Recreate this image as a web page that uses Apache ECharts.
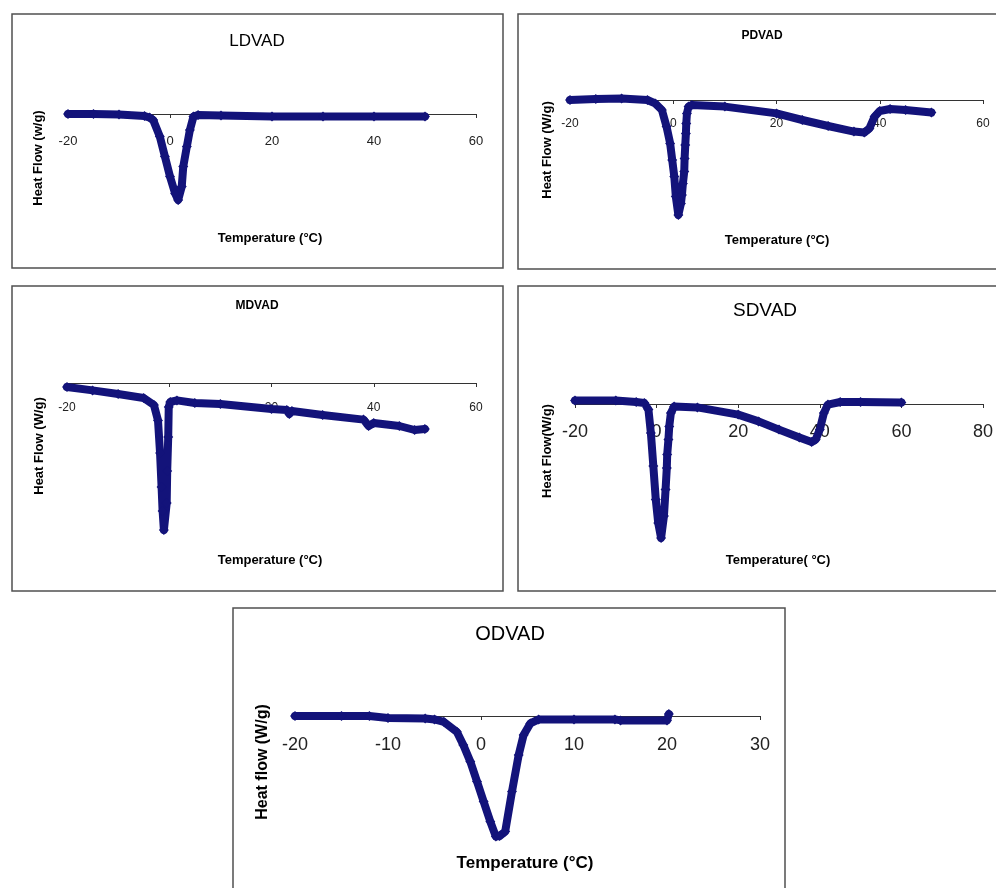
<!DOCTYPE html>
<html>
<head>
<meta charset="utf-8">
<script src="https://cdn.jsdelivr.net/npm/echarts@6/dist/echarts.min.js"></script>
<style>html,body{margin:0;padding:0;background:#fff}#c{width:996px;height:888px}</style>
</head>
<body>
<div id="c"></div>
<script>
// ---- Data (Temperature in °C, heat flow in arbitrary W/g units) ----
const ldvadT  = [-20, -15, -10, -5, -4, -3.3, -2, -1, 0, 1, 1.6, 2.3, 2.6, 3.3, 3.9, 4.6, 5.5, 10, 20, 30, 40, 50];
const ldvadHF = [0, 0, -0.03, -0.1, -0.18, -0.3, -1.13, -2.13, -3.13, -3.97, -4.3, -3.63, -2.63, -1.63, -0.8, -0.13, -0.05, -0.08, -0.12, -0.13, -0.13, -0.13];

const pdvadT  = [-20, -15, -10, -5, -3.5, -2.2, -1.3, -0.6, -0.2, 0.2, 0.5, 0.99, 1.49, 1.68, 1.87, 2.13, 2.2, 2.33, 2.45, 2.52, 2.65, 2.97, 3.6, 10, 20, 25, 30, 35, 37, 38, 39, 40, 42, 45, 50];
const pdvadHF = [0, 0.05, 0.08, 0, -0.17, -0.5, -1.33, -2.17, -3, -3.83, -4.83, -5.75, -5.17, -4.75, -4.17, -3.58, -2.92, -2.25, -1.67, -1.17, -0.67, -0.33, -0.25, -0.33, -0.67, -1.0, -1.3, -1.58, -1.63, -1.42, -0.83, -0.55, -0.45, -0.5, -0.63];

const mdvadT  = [-20, -15, -10, -5, -3, -2.2, -1.8, -1.5, -1.3, -1.05, -0.5, -0.4, -0.2, -0.1, 0.2, 1.5, 5, 10, 20, 23, 23.5, 24, 30, 38, 39, 40, 45, 48, 50];
const mdvadHF = [-0.2, -0.37, -0.55, -0.75, -1.1, -1.87, -3.5, -5.2, -6.4, -7.35, -6.0, -4.4, -2.7, -1.2, -0.95, -0.87, -1.0, -1.05, -1.3, -1.35, -1.55, -1.4, -1.6, -1.83, -2.15, -2.0, -2.15, -2.35, -2.3];

const sdvadT  = [-20, -10, -5, -3, -2.0, -1.4, -0.8, -0.2, 0.4, 1.1, 1.8, 2.2, 2.5, 2.6, 2.9, 3.1, 3.5, 4.3, 10, 20, 25, 30, 35, 38, 39, 40, 41, 42, 45, 50, 60];
const sdvadHF = [0.18, 0.18, 0.1, 0.05, -0.28, -1.45, -3.1, -4.78, -5.95, -6.7, -5.6, -4.28, -3.2, -2.53, -1.78, -1.12, -0.45, -0.12, -0.17, -0.53, -0.87, -1.28, -1.67, -1.9, -1.78, -1.28, -0.45, -0.03, 0.1, 0.1, 0.08];

const odvadT  = [-20, -15, -12, -10, -6, -5, -4, -2.6, -1.9, -1.15, -0.43, 0.28, 1.0, 1.6, 2.0, 2.6, 3.33, 4.05, 4.58, 5.3, 6.2, 10, 14.4, 15, 20, 20.2];
const odvadHF = [0, 0, 0, -0.1, -0.12, -0.17, -0.29, -0.79, -1.45, -2.28, -3.28, -4.28, -5.28, -6.03, -6.0, -5.78, -3.78, -1.95, -0.95, -0.37, -0.17, -0.17, -0.17, -0.22, -0.22, 0.1];

// tick settings per panel
const xMins = [-20, -20, -20, -20, -20];
const xMaxs = [60, 60, 60, 80, 30];
const xSteps = [20, 20, 20, 20, 10];
const panelTitles = ['LDVAD', 'PDVAD', 'MDVAD', 'SDVAD', 'ODVAD'];
const yNames = ['Heat Flow (w/g)', 'Heat Flow (W/g)', 'Heat Flow (W/g)', 'Heat Flow(W/g)', 'Heat flow (W/g)'];
const xNames = ['Temperature (°C)', 'Temperature (°C)', 'Temperature (°C)', 'Temperature( °C)', 'Temperature (°C)'];

// ---- Layout ----
const FONT = '"Liberation Sans", Arial, sans-serif';
const NAVY = '#13137a';
const PX_PER_UNIT = 20;
const grids = [
  {left: 68, top: 94, width: 408, height: 120},
  {left: 570, top: 80, width: 413, height: 160},
  {left: 67, top: 363, width: 409, height: 180},
  {left: 575, top: 384, width: 408, height: 160},
  {left: 295, top: 696, width: 465, height: 160}
];
const yRanges = [[-5, 1], [-7, 1], [-8, 1], [-7, 1], [-7, 1]];
const tickFont = [13, 12, 12, 18, 18];
const labelMargin = [21, 18, 19, 19, 20];
const boxes = [[12, 14, 491, 254], [518, 14, 500, 255], [12, 286, 491, 305], [518, 286, 500, 305], [233, 608, 552, 300]];
const titlePos = [[257, 41, 17, 'normal'], [762, 36, 12, 'bold'], [257, 306, 12, 'bold'], [765, 311, 19, 'normal'], [510, 634, 20, 'normal']];
const yNamePos = [[38, 158, 13], [547, 150, 13], [39, 446, 13], [547, 451, 13], [263, 762, 16]];
const xNamePos = [[270, 238, 13], [777, 240, 13], [270, 560, 13], [778, 560, 13], [525, 863, 17]];

const allT = [ldvadT, pdvadT, mdvadT, sdvadT, odvadT];
const allHF = [ldvadHF, pdvadHF, mdvadHF, sdvadHF, odvadHF];

const xAxis = [], yAxis = [], series = [], graphic = [];
for (let i = 0; i < 5; i++) {
  xAxis.push({
    gridIndex: i, type: 'value', position: 'bottom', min: xMins[i], max: xMaxs[i], interval: xSteps[i],
    offset: yRanges[i][0] * PX_PER_UNIT,
    axisLine: {show: true, onZero: false, lineStyle: {color: '#333', width: 1}},
    axisTick: {show: true, length: 4, lineStyle: {color: '#333'}},
    axisLabel: {margin: labelMargin[i], fontSize: tickFont[i], color: '#222', fontFamily: FONT},
    splitLine: {show: false}
  });
  yAxis.push({gridIndex: i, type: 'value', min: yRanges[i][0], max: yRanges[i][1], show: false});
  series.push({
    type: 'line', xAxisIndex: i, yAxisIndex: i,
    data: allT[i].map((t, k) => [t, allHF[i][k]]),
    symbol: 'diamond', symbolSize: 10, showAllSymbol: true,
    lineStyle: {color: NAVY, width: 8, join: 'round', cap: 'round'}, itemStyle: {color: NAVY},
    z: 3, animation: false
  });
  const b = boxes[i];
  graphic.push({type: 'rect', shape: {x: b[0], y: b[1], width: b[2], height: b[3]},
    style: {fill: 'none', stroke: '#505050', lineWidth: 1.5}, z: 0});
  const tp = titlePos[i];
  graphic.push({type: 'text', x: tp[0], y: tp[1], style: {text: panelTitles[i], fontSize: tp[2], fontWeight: tp[3],
    fontFamily: FONT, fill: '#000', textAlign: 'center', textVerticalAlign: 'middle'}});
  const yp = yNamePos[i];
  graphic.push({type: 'text', x: yp[0], y: yp[1], rotation: Math.PI / 2, style: {text: yNames[i], fontSize: yp[2], fontWeight: 'bold',
    fontFamily: FONT, fill: '#000', textAlign: 'center', textVerticalAlign: 'middle'}});
  const xp = xNamePos[i];
  graphic.push({type: 'text', x: xp[0], y: xp[1], style: {text: xNames[i], fontSize: xp[2], fontWeight: 'bold',
    fontFamily: FONT, fill: '#000', textAlign: 'center', textVerticalAlign: 'middle'}});
}

const chart = echarts.init(document.getElementById('c'), null, {renderer: 'canvas'});
chart.setOption({
  animation: false,
  backgroundColor: '#fff',
  grid: grids,
  xAxis: xAxis,
  yAxis: yAxis,
  series: series,
  graphic: graphic
});
</script>
</body>
</html>
